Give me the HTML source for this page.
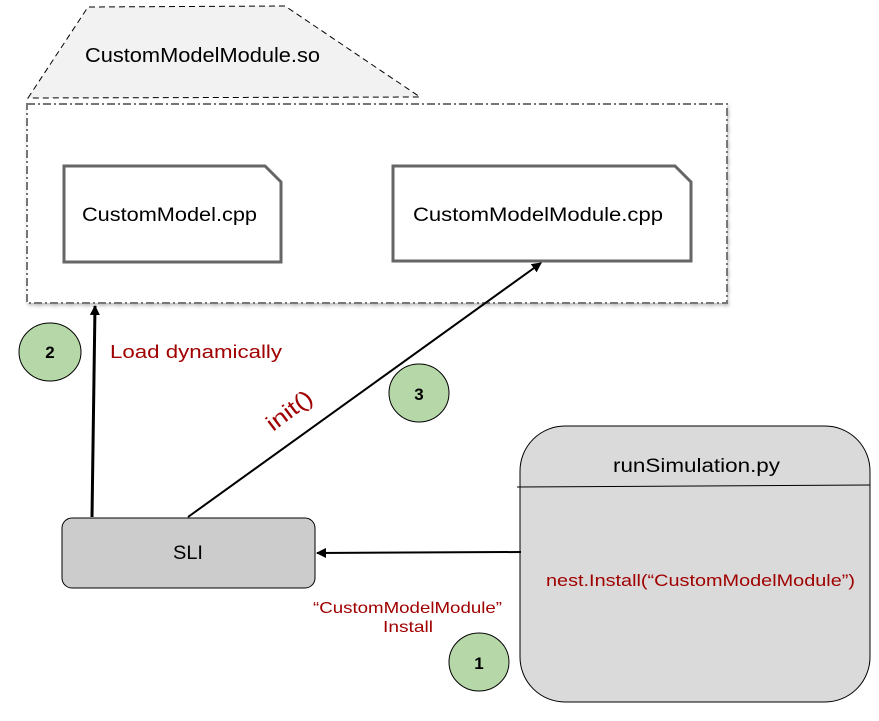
<!DOCTYPE html>
<html><head><meta charset="utf-8"><style>
html,body{margin:0;padding:0;background:#fff;width:879px;height:721px;overflow:hidden}
svg{display:block}
text{font-family:"Liberation Sans",sans-serif}
</style></head><body>
<svg width="879" height="721" viewBox="0 0 879 721" xmlns="http://www.w3.org/2000/svg">
<defs>
<marker id="ah" markerWidth="10" markerHeight="10" refX="9" refY="5" orient="auto" markerUnits="userSpaceOnUse">
<path d="M0,0 L10,5 L0,10 z" fill="#000"/>
</marker>
<filter id="sh" x="-5%" y="-5%" width="110%" height="115%"><feDropShadow dx="1" dy="2" stdDeviation="1.5" flood-color="#000" flood-opacity="0.25"/></filter>
</defs>
<polygon points="28,98 88,7 285,6 420,97" fill="#f2f2f2" stroke="#000" stroke-width="1" stroke-dasharray="6,4"/>
<text x="85" y="62" font-size="20" textLength="235" lengthAdjust="spacingAndGlyphs" fill="#000">CustomModelModule.so</text>
<rect x="27" y="104" width="700" height="199" fill="#fff" stroke="#777" stroke-width="2" stroke-dasharray="8,3,2,3" filter="url(#sh)"/>
<path d="M64,166 L265,166 L281,182 L281,262 L64,262 Z" fill="#fff" stroke="#666" stroke-width="3"/>
<text x="82" y="221" font-size="19" textLength="175" lengthAdjust="spacingAndGlyphs" fill="#000">CustomModel.cpp</text>
<path d="M393,166 L675,166 L691,182 L691,261 L393,261 Z" fill="#fff" stroke="#666" stroke-width="3"/>
<text x="413" y="221" font-size="19" textLength="250" lengthAdjust="spacingAndGlyphs" fill="#000">CustomModelModule.cpp</text>
<rect x="62" y="518" width="253" height="70" rx="10" fill="#cccccc" stroke="#000" stroke-width="1"/>
<text x="173" y="559" font-size="19" textLength="30" lengthAdjust="spacingAndGlyphs" fill="#000">SLI</text>
<rect x="520" y="426" width="350" height="276" rx="45" fill="#dadada" stroke="#000" stroke-width="1"/>
<line x1="517" y1="487" x2="870" y2="485" stroke="#000" stroke-width="1"/>
<text x="613" y="472" font-size="19" textLength="167" lengthAdjust="spacingAndGlyphs" fill="#000">runSimulation.py</text>
<text x="546" y="586" font-size="17" textLength="309" lengthAdjust="spacingAndGlyphs" fill="#a00000">nest.Install(“CustomModelModule”)</text>
<line x1="92" y1="517" x2="95" y2="306" stroke="#000" stroke-width="3" marker-end="url(#ah)"/>
<line x1="188" y1="517" x2="541" y2="263" stroke="#000" stroke-width="2" marker-end="url(#ah)"/>
<line x1="521" y1="552" x2="317" y2="553" stroke="#000" stroke-width="2" marker-end="url(#ah)"/>
<text x="110" y="358" font-size="18" textLength="172" lengthAdjust="spacingAndGlyphs" fill="#a00000">Load dynamically</text>
<text x="0" y="0" font-size="22" textLength="52" lengthAdjust="spacingAndGlyphs" fill="#a00000" transform="translate(273,432) rotate(-37)">init()</text>
<text x="313" y="613" font-size="16" textLength="189" lengthAdjust="spacingAndGlyphs" fill="#a00000">“CustomModelModule”</text>
<text x="383" y="632" font-size="16" textLength="50" lengthAdjust="spacingAndGlyphs" fill="#a00000">Install</text>
<ellipse cx="50" cy="352" rx="31" ry="29" fill="#b6d7a8" stroke="#000" stroke-width="1"/>
<text x="50" y="358" font-size="17" font-weight="bold" text-anchor="middle">2</text>
<ellipse cx="419" cy="393" rx="30" ry="29" fill="#b6d7a8" stroke="#000" stroke-width="1"/>
<text x="419" y="400" font-size="17" font-weight="bold" text-anchor="middle">3</text>
<ellipse cx="479" cy="662" rx="30" ry="29" fill="#b6d7a8" stroke="#000" stroke-width="1"/>
<text x="479" y="669" font-size="17" font-weight="bold" text-anchor="middle">1</text>
</svg>
</body></html>
